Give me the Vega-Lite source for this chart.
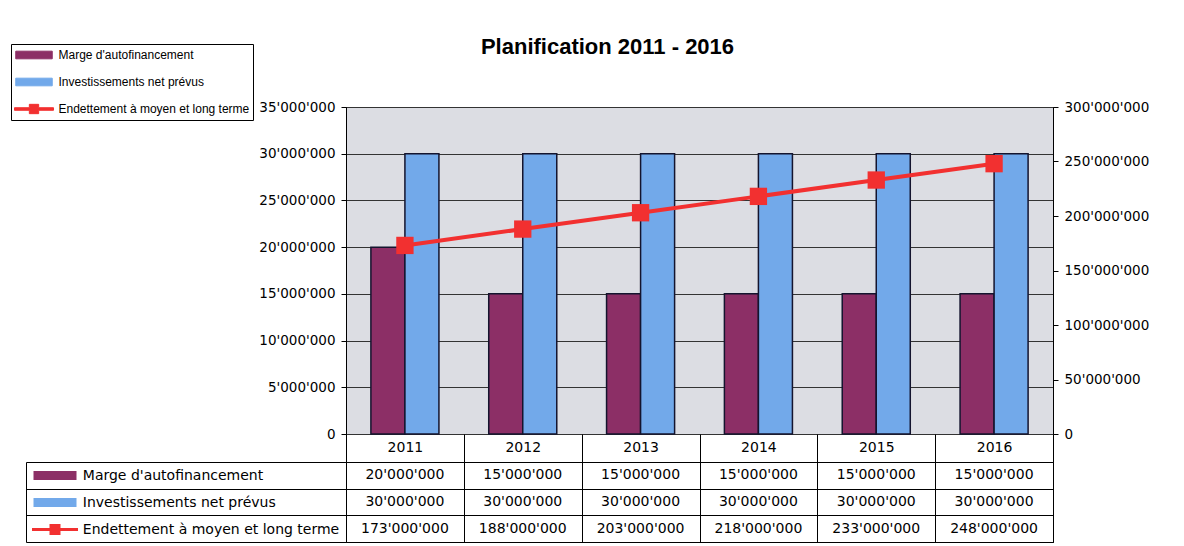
{
  "$schema": "https://vega.github.io/schema/vega-lite/v6.json",
  "padding": {"left": 10, "top": 35, "right": 0, "bottom": 0},
  "background": "white",
  "datasets": {
    "planif": [
      {"annee": "2011", "serie": "Marge d'autofinancement", "valeur": 20000000},
      {"annee": "2011", "serie": "Investissements net prévus", "valeur": 30000000},
      {"annee": "2011", "serie": "Endettement à moyen et long terme", "valeur": 173000000},
      {"annee": "2012", "serie": "Marge d'autofinancement", "valeur": 15000000},
      {"annee": "2012", "serie": "Investissements net prévus", "valeur": 30000000},
      {"annee": "2012", "serie": "Endettement à moyen et long terme", "valeur": 188000000},
      {"annee": "2013", "serie": "Marge d'autofinancement", "valeur": 15000000},
      {"annee": "2013", "serie": "Investissements net prévus", "valeur": 30000000},
      {"annee": "2013", "serie": "Endettement à moyen et long terme", "valeur": 203000000},
      {"annee": "2014", "serie": "Marge d'autofinancement", "valeur": 15000000},
      {"annee": "2014", "serie": "Investissements net prévus", "valeur": 30000000},
      {"annee": "2014", "serie": "Endettement à moyen et long terme", "valeur": 218000000},
      {"annee": "2015", "serie": "Marge d'autofinancement", "valeur": 15000000},
      {"annee": "2015", "serie": "Investissements net prévus", "valeur": 30000000},
      {"annee": "2015", "serie": "Endettement à moyen et long terme", "valeur": 233000000},
      {"annee": "2016", "serie": "Marge d'autofinancement", "valeur": 15000000},
      {"annee": "2016", "serie": "Investissements net prévus", "valeur": 30000000},
      {"annee": "2016", "serie": "Endettement à moyen et long terme", "valeur": 248000000}
    ]
  },
  "spacing": 28,
  "bounds": "flush",
  "resolve": {
    "scale": {"x": "independent", "y": "independent", "color": "shared", "shape": "shared"},
    "legend": {"color": "independent", "shape": "independent"}
  },
  "vconcat": [
    {
      "width": 707,
      "height": 327,
      "data": {"name": "planif"},
      "title": {
        "text": "Planification 2011 - 2016",
        "font": "Liberation Sans",
        "fontSize": 22,
        "fontWeight": "bold",
        "color": "black",
        "anchor": "middle",
        "dx": -92,
        "offset": -15
      },
      "view": {"fill": "#dcdde3", "stroke": "black", "strokeWidth": 1},
      "encoding": {
        "x": {
          "field": "annee",
          "type": "nominal",
          "scale": {"paddingInner": 0, "paddingOuter": 0},
          "axis": {
            "title": null,
            "labelAngle": 0,
            "tickBand": "extent",
            "tickSize": 28,
            "tickColor": "black",
            "tickWidth": 1,
            "domain": false,
            "grid": false,
            "labelPadding": -22,
            "labelFontSize": 14,
            "labelFont": "DejaVu Sans",
            "labelColor": "black"
          }
        },
        "color": {
          "field": "serie",
          "type": "nominal",
          "scale": {
            "domain": ["Marge d'autofinancement", "Investissements net prévus", "Endettement à moyen et long terme"],
            "range": ["#8c2f66", "#72a9ea", "#f23030"]
          },
          "legend": {
            "title": null,
            "orient": "none",
            "legendX": -335,
            "legendY": -63,
            "direction": "vertical",
            "padding": 3,
            "strokeColor": "black",
            "fillColor": "white",
            "clipHeight": 16,
            "rowPadding": 11,
            "symbolSize": 72,
            "symbolOffset": 14,
            "symbolStrokeColor": "#14142e",
            "symbolStrokeWidth": 1,
            "symbolOpacity": 1,
            "labelOffset": 18.5,
            "labelFontSize": 12,
            "labelFont": "Liberation Sans",
            "labelColor": "black",
            "labelLimit": 300
          }
        }
      },
      "layer": [
        {
          "transform": [{"filter": "datum.serie !== 'Endettement à moyen et long terme'"}],
          "mark": {"type": "bar", "stroke": "#14142e", "strokeWidth": 1.5},
          "encoding": {
            "xOffset": {
              "field": "serie",
              "type": "nominal",
              "scale": {"domain": ["Marge d'autofinancement", "Investissements net prévus"], "paddingInner": 0, "paddingOuter": 0.732}
            },
            "y": {
              "field": "valeur",
              "type": "quantitative",
              "scale": {"domain": [0, 35000000]},
              "axis": {
                "title": null,
                "values": [0, 5000000, 10000000, 15000000, 20000000, 25000000, 30000000, 35000000],
                "labelExpr": "format(datum.value, ',')",
                "grid": true,
                "gridColor": "#333333",
                "gridOpacity": 1,
                "tickSize": 5,
                "tickColor": "black",
                "domainColor": "black",
                "labelFontSize": 13.5,
                "labelFont": "DejaVu Sans",
                "labelColor": "black",
                "labelPadding": 6
              }
            }
          }
        },
        {
          "transform": [{"filter": "datum.serie === 'Endettement à moyen et long terme'"}],
          "mark": {
            "type": "line",
            "strokeWidth": 4,
            "point": {"shape": "square", "size": 300, "filled": true, "opacity": 1}
          },
          "encoding": {
            "y": {
              "field": "valeur",
              "type": "quantitative",
              "scale": {"domain": [0, 300000000]},
              "axis": {
                "orient": "right",
                "title": null,
                "values": [0, 50000000, 100000000, 150000000, 200000000, 250000000, 300000000],
                "labelExpr": "format(datum.value, ',')",
                "grid": false,
                "tickSize": 5,
                "tickColor": "black",
                "domainColor": "black",
                "labelFontSize": 13.5,
                "labelFont": "DejaVu Sans",
                "labelColor": "black",
                "labelPadding": 6
              }
            }
          }
        },
        {
          "transform": [{"filter": "false"}],
          "mark": {"type": "point", "filled": true},
          "encoding": {
            "shape": {
              "field": "serie",
              "type": "nominal",
              "scale": {
                "domain": ["Marge d'autofinancement", "Investissements net prévus", "Endettement à moyen et long terme"],
                "range": ["M-4.3,-0.9H4.3V0.9H-4.3Z", "M-4.3,-0.9H4.3V0.9H-4.3Z", "M-4.6,-0.3H-1.1V-1.1H1.1V-0.3H4.6V0.3H1.1V1.1H-1.1V0.3H-4.6Z"]
              },
              "legend": {
                "title": null,
                "orient": "none",
                "legendX": -335,
                "legendY": -63,
                "direction": "vertical",
                "padding": 3,
                "strokeColor": "black",
                "fillColor": "white",
                "clipHeight": 16,
                "rowPadding": 11,
                "symbolSize": 72,
                "symbolOffset": 14,
                "symbolStrokeColor": "#14142e",
                "symbolStrokeWidth": 1,
                "symbolOpacity": 1,
                "labelOffset": 18.5,
                "labelFontSize": 12,
                "labelFont": "Liberation Sans",
                "labelColor": "black",
                "labelLimit": 300
              }
            }
          }
        }
      ],
      "resolve": {"scale": {"y": "independent"}}
    },
    {
      "width": 707,
      "height": 80,
      "data": {"name": "planif"},
      "view": {"fill": "white", "stroke": "black", "strokeWidth": 1},
      "encoding": {
        "x": {
          "field": "annee",
          "type": "nominal",
          "scale": {"paddingInner": 0, "paddingOuter": 0},
          "axis": {
            "title": null,
            "labels": false,
            "ticks": false,
            "domain": false,
            "grid": true,
            "tickBand": "extent",
            "gridColor": "black",
            "gridOpacity": 1
          }
        }
      },
      "layer": [
        {
          "mark": {"type": "text", "fontSize": 14, "font": "DejaVu Sans", "color": "black"},
          "encoding": {
            "text": {"field": "valeur", "type": "quantitative", "format": ","},
            "y": {
              "field": "serie",
              "type": "nominal",
              "scale": {
                "domain": ["Marge d'autofinancement", "Investissements net prévus", "Endettement à moyen et long terme"],
                "paddingInner": 0,
                "paddingOuter": 0
              },
              "axis": {
                "title": null,
                "orient": "left",
                "tickBand": "extent",
                "tickSize": 320,
                "tickColor": "black",
                "grid": true,
                "gridColor": "black",
                "gridOpacity": 1,
                "domain": false,
                "labels": false
              }
            }
          }
        },
        {
          "transform": [{"filter": "false"}],
          "mark": {"type": "point", "filled": true},
          "encoding": {
            "y": {
              "field": "serie",
              "type": "nominal",
              "scale": {
                "domain": ["Marge d'autofinancement", "Investissements net prévus", "Endettement à moyen et long terme"],
                "paddingInner": 0,
                "paddingOuter": 0
              },
              "axis": {
                "title": null,
                "orient": "left",
                "offset": 320,
                "labels": false,
                "ticks": false,
                "grid": false,
                "domain": true,
                "domainColor": "black"
              }
            },
            "color": {
              "field": "serie",
              "type": "nominal",
              "scale": {
                "domain": ["Marge d'autofinancement", "Investissements net prévus", "Endettement à moyen et long terme"],
                "range": ["#8c2f66", "#72a9ea", "#f23030"]
              },
              "legend": {
                "title": null,
                "orient": "none",
                "legendX": -320,
                "legendY": 0,
                "direction": "vertical",
                "padding": 0,
                "clipHeight": 27,
                "rowPadding": 0,
                "symbolSize": 100,
                "symbolOffset": 22,
                "symbolStrokeColor": "#14142e",
                "symbolStrokeWidth": 1.2,
                "symbolOpacity": 1,
                "labelOffset": 20.8,
                "labelFontSize": 14,
                "labelFont": "DejaVu Sans",
                "labelColor": "black",
                "labelLimit": 400
              }
            },
            "shape": {
              "field": "serie",
              "type": "nominal",
              "scale": {
                "domain": ["Marge d'autofinancement", "Investissements net prévus", "Endettement à moyen et long terme"],
                "range": ["M-4.3,-0.9H4.3V0.9H-4.3Z", "M-4.3,-0.9H4.3V0.9H-4.3Z", "M-4.6,-0.3H-1.1V-1.1H1.1V-0.3H4.6V0.3H1.1V1.1H-1.1V0.3H-4.6Z"]
              },
              "legend": {
                "title": null,
                "orient": "none",
                "legendX": -320,
                "legendY": 0,
                "direction": "vertical",
                "padding": 0,
                "clipHeight": 27,
                "rowPadding": 0,
                "symbolSize": 100,
                "symbolOffset": 22,
                "symbolStrokeColor": "#14142e",
                "symbolStrokeWidth": 1.2,
                "symbolOpacity": 1,
                "labelOffset": 20.8,
                "labelFontSize": 14,
                "labelFont": "DejaVu Sans",
                "labelColor": "black",
                "labelLimit": 400
              }
            }
          }
        }
      ],
      "resolve": {"axis": {"y": "independent"}}
    }
  ],
  "config": {
    "font": "DejaVu Sans",
    "locale": {"number": {"decimal": ".", "thousands": "'", "grouping": [3], "currency": ["", ""]}}
  }
}
